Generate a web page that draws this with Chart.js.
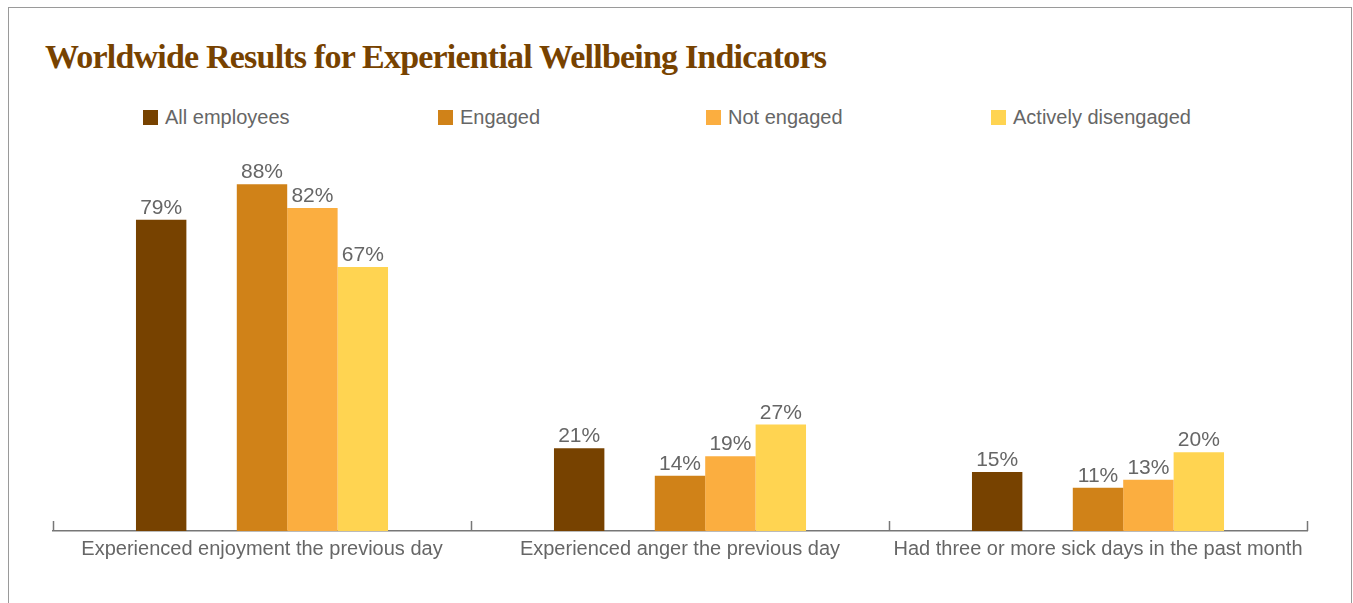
<!DOCTYPE html>
<html lang="en">

<head>
    <meta charset="UTF-8">
    <title>Worldwide Results for Experiential Wellbeing Indicators</title>
    <script src="https://cdn.jsdelivr.net/npm/chart.js"></script>
    <style>
        body { margin: 0; background: #fff; }
        #wrap { position: relative; width: 1353px; height: 603px; overflow: hidden; }
        #frame { position: absolute; left: 8px; top: 7px; width: 1342px; height: 700px; border: 1.5px solid #9a9a9a; }
        #title { position: absolute; left: 45px; top: 38px; font-family: "Liberation Serif", serif; font-weight: bold;
                 font-size: 34px; color: #774200; letter-spacing: -0.8px; white-space: nowrap; }
        .lg { position: absolute; top: 106px; font-family: "Liberation Sans", Arial, sans-serif; font-size: 20px; color: #666; white-space: nowrap; }
        .lg span { display: inline-block; width: 15px; height: 15px; margin-right: 7px; vertical-align: -1px; }
        canvas { position: absolute; left: 0; top: 0; }
    </style>
</head>

<body>
    <div id="wrap">
        <div id="frame"></div>
        <div id="title">Worldwide Results for Experiential Wellbeing Indicators</div>
        <div id="legend"></div>
        <canvas id="myChart" width="1353" height="603"></canvas>
    </div>
    <script>
        const categories = ['Experienced enjoyment the previous day', 'Experienced anger the previous day', 'Had three or more sick days in the past month'];
        const seriesNames = ['All employees', 'Engaged', 'Not engaged', 'Actively disengaged'];
        const allEmployees = [79, 21, 15];
        const engaged = [88, 14, 11];
        const notEngaged = [82, 19, 13];
        const activelyDisengaged = [67, 27, 20];
        const colors = ['#774200', '#d08218', '#fbae40', '#ffd451'];
        const legendX = [143, 438, 706, 991];

        // legend placed like the original (uneven spacing)
        const legendBox = document.getElementById('legend');
        seriesNames.forEach((name, i) => {
            const d = document.createElement('div');
            d.className = 'lg';
            d.style.left = legendX[i] + 'px';
            d.innerHTML = '<span style="background:' + colors[i] + '"></span>' + name;
            legendBox.appendChild(d);
        });

        // values above bars
        const valueLabels = {
            id: 'valueLabels',
            afterDatasetsDraw(chart) {
                const ctx = chart.ctx;
                ctx.save();
                ctx.font = '21px "Liberation Sans", Arial, sans-serif';
                ctx.fillStyle = '#666';
                ctx.textAlign = 'center';
                ctx.textBaseline = 'alphabetic';
                chart.data.datasets.forEach((ds, i) => {
                    if (ds.spacer) return;
                    chart.getDatasetMeta(i).data.forEach((bar, j) => {
                        ctx.fillText(ds.data[j] + '%', bar.x, bar.y - 6);
                    });
                });
                ctx.restore();
            }
        };

        // small upward ticks between categories on the baseline
        const groupTicks = {
            id: 'groupTicks',
            afterDraw(chart) {
                const x = chart.scales.x;
                const ctx = chart.ctx;
                const step = (x.right - x.left) / categories.length;
                ctx.save();
                ctx.strokeStyle = '#777';
                ctx.lineWidth = 1.5;
                for (let i = 0; i <= categories.length; i++) {
                    const px = Math.round(x.left + i * step) + 0.5;
                    ctx.beginPath();
                    ctx.moveTo(px, x.top);
                    ctx.lineTo(px, x.top - 10);
                    ctx.stroke();
                }
                ctx.restore();
            }
        };

        const dataSets = [
            { label: seriesNames[0], data: allEmployees, backgroundColor: colors[0] },
            { label: '', data: [null, null, null], spacer: true },
            { label: seriesNames[1], data: engaged, backgroundColor: colors[1] },
            { label: seriesNames[2], data: notEngaged, backgroundColor: colors[2] },
            { label: seriesNames[3], data: activelyDisengaged, backgroundColor: colors[3] }
        ];

        new Chart(document.getElementById('myChart'), {
            type: 'bar',
            data: { labels: categories, datasets: dataSets },
            options: {
                responsive: false,
                animation: false,
                layout: { padding: { left: 53, right: 46, top: 137, bottom: 36 } },
                datasets: { bar: { categoryPercentage: 0.603, barPercentage: 1.0 } },
                plugins: { legend: { display: false }, tooltip: { enabled: false } },
                scales: {
                    x: {
                        grid: { display: false, drawTicks: false },
                        border: { display: true, color: '#777', width: 1.5 },
                        ticks: { color: '#666', padding: 6, font: { family: '"Liberation Sans", Arial, sans-serif', size: 20 } }
                    },
                    y: { display: false, min: 0, max: 100 }
                }
            },
            plugins: [valueLabels, groupTicks]
        });
    </script>
</body>

</html>
